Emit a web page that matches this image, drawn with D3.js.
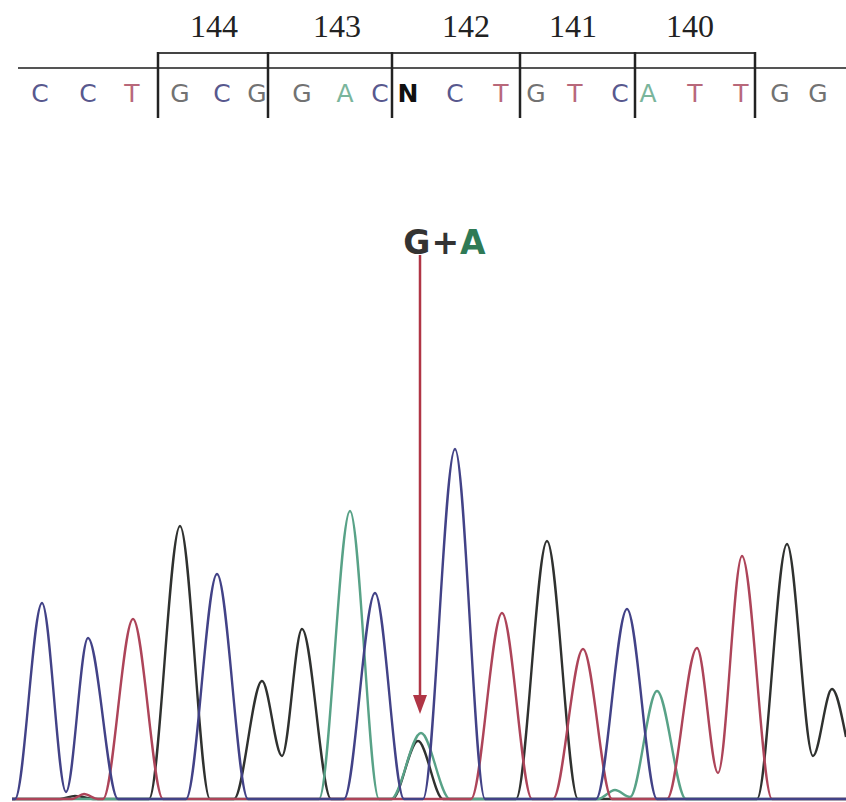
<!DOCTYPE html>
<html>
<head>
<meta charset="utf-8">
<script src="https://cdn.jsdelivr.net/npm/d3@7"></script>
<style>
  html, body { margin: 0; padding: 0; background: #fff; }
  #chart { width: 846px; height: 802px; }
</style>
</head>
<body>
<div id="chart"></div>
<script>
// base calls (scan position of each called base)
const baseCalls = ['C', 'C', 'T', 'G', 'C', 'G', 'G', 'A', 'C', 'N', 'C', 'T', 'G', 'T', 'C', 'A', 'T', 'T', 'G', 'G']
const baseScan = [40, 88, 132, 180, 222, 257, 302, 345, 380, 408, 455, 501, 536, 575, 620, 648, 695, 741, 780, 818]

// codons
const codonLabels = ['144', '143', '142', '141', '140']
const codonLabelScan = [214, 337, 466, 573, 690]
const codonBounds = [158, 268, 392, 520, 635, 755]

// heterozygous call
const mutationLabel = ['G', '+', 'A']
const mutationScan = 420

// trace key points [scan, signal] per dye channel
const traceC = [[12, 0], [15, 0], [42, 196], [66, 7], [88, 161], [118, 0], [186, 0], [217, 225], [248, 0],
  [344, 0], [375, 206], [404, 0], [423, 0], [455, 350], [485, 0], [596, 0], [627, 190], [657, 0], [846, 0]]
const traceG = [[12, 0], [60, 0], [75, 3], [95, 0], [149, 0], [180, 273], [210, 0], [234, 0], [262, 118],
  [282, 43], [302, 170], [331, 0], [392, 0], [418, 58], [443, 0], [516, 0], [547, 258], [578, 0],
  [757, 0], [787, 255], [813, 43], [832, 110], [846, 62]]
const traceA = [[12, 0], [319, 0], [350, 288], [379, 0], [391, 0], [421, 66], [450, 0], [598, 0],
  [615, 9], [630, 2], [657, 108], [686, 0], [846, 0]]
const traceT = [[12, 0], [72, 0], [84, 5], [98, 0], [103, 0], [133, 180], [163, 0], [471, 0], [502, 186],
  [532, 0], [553, 0], [583, 150], [612, 0], [667, 0], [697, 151], [718, 26], [742, 243], [772, 0], [846, 0]]

const traceColor = { C: '#424287', G: '#2f312f', A: '#58a287', T: '#ad4459' }
const letterColor = { C: '#58588e', G: '#727272', A: '#7ab59c', T: '#b8687a', N: '#111' }

const width = 846
const height = 802

const svg = d3.select('#chart').append('svg')
  .attr('width', width)
  .attr('height', height)

const x = d3.scaleLinear().domain([0, 846]).range([0, width])
const y = d3.scaleLinear().domain([0, 360]).range([799, 439])

// codon numbers
svg.append('g').selectAll('text')
  .data(codonLabels)
  .enter().append('text')
  .attr('x', (d, i) => x(codonLabelScan[i]))
  .attr('y', 37)
  .attr('text-anchor', 'middle')
  .attr('font-family', 'Liberation Serif, serif')
  .attr('font-size', 32)
  .attr('fill', '#222')
  .text(d => d)

// sequence rule + codon brackets
svg.append('line')
  .attr('x1', 18).attr('x2', width)
  .attr('y1', 68).attr('y2', 68)
  .attr('stroke', '#555').attr('stroke-width', 2)

svg.append('line')
  .attr('x1', x(codonBounds[0])).attr('x2', x(codonBounds[codonBounds.length - 1]))
  .attr('y1', 53).attr('y2', 53)
  .attr('stroke', '#444').attr('stroke-width', 2)

svg.append('g').selectAll('line')
  .data(codonBounds)
  .enter().append('line')
  .attr('x1', d => x(d)).attr('x2', d => x(d))
  .attr('y1', 52).attr('y2', 118)
  .attr('stroke', '#222').attr('stroke-width', 2.5)

// base letters
svg.append('g').selectAll('text')
  .data(baseCalls)
  .enter().append('text')
  .attr('x', (d, i) => x(baseScan[i]))
  .attr('y', 102)
  .attr('text-anchor', 'middle')
  .attr('font-family', 'DejaVu Sans, sans-serif')
  .attr('font-size', 25)
  .attr('font-weight', d => d === 'N' ? 'bold' : 'normal')
  .attr('fill', d => letterColor[d])
  .text(d => d)

// traces
const line = d3.line()
  .x(d => x(d[0]))
  .y(d => y(d[1]))
  .curve(d3.curveMonotoneX)

const traces = [['G', traceG], ['A', traceA], ['T', traceT], ['C', traceC]]
svg.append('g').selectAll('path')
  .data(traces)
  .enter().append('path')
  .attr('d', d => line(d[1]))
  .attr('fill', 'none')
  .attr('stroke', d => traceColor[d[0]])
  .attr('stroke-width', 2.4)
  .attr('stroke-linejoin', 'round')

// mutation label and arrow
const label = svg.append('text')
  .attr('x', x(mutationScan) + 25)
  .attr('y', 254)
  .attr('text-anchor', 'middle')
  .attr('font-family', 'DejaVu Sans, sans-serif')
  .attr('font-weight', 'bold')
  .attr('font-size', 33)
  .attr('letter-spacing', 1)
label.selectAll('tspan')
  .data(mutationLabel)
  .enter().append('tspan')
  .attr('fill', d => d === 'A' ? '#2f7a56' : '#333')
  .text(d => d)

svg.append('line')
  .attr('x1', x(mutationScan)).attr('x2', x(mutationScan))
  .attr('y1', 255).attr('y2', 700)
  .attr('stroke', '#b03545').attr('stroke-width', 2.5)

svg.append('path')
  .attr('d', d3.line()([[x(mutationScan) - 7, 695], [x(mutationScan) + 7, 695], [x(mutationScan), 714]]) + 'Z')
  .attr('fill', '#b03545')
</script>
</body>
</html>
